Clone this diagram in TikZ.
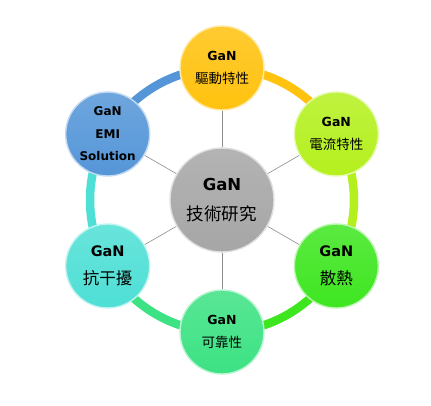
\documentclass[tikz,border=0pt]{standalone}
\usepackage{fontspec}
\setmainfont{DejaVu Sans}
\newfontfamily\cjk{Noto Sans CJK TC}
\usetikzlibrary{positioning}
\usetikzlibrary{backgrounds}

\definecolor{gangray}{HTML}{A6A6A6}
\definecolor{gangold}{HTML}{FFC20E}
\definecolor{ganlime}{HTML}{B4F01E}
\definecolor{gangreen}{HTML}{3EE620}
\definecolor{ganmint}{HTML}{3CE283}
\definecolor{ganturq}{HTML}{4EDFD5}
\definecolor{ganblue}{HTML}{5596D8}

\tikzset{
  ball/.style={circle, minimum size=84pt, inner sep=0pt, align=center,
    top color=#1!85!white, bottom color=#1,
    draw=#1!35!white, line width=1.4pt, text=black,
    font=\fontsize{12.5}{23}\selectfont},
  hub/.style={ball=#1, minimum size=104pt, font=\fontsize{16.5}{30}\selectfont},
  spoke/.style={draw=gray!90, line width=0.6pt},
  ring/.style={line width=8.5pt}
}

\begin{document}
\begin{tikzpicture}[x=1pt,y=1pt]
    \useasboundingbox (-222,-205) rectangle (209,200);

    \node[hub=gangray] (tech) at (0,0)
        {\textbf{GaN}\\{\cjk\fontsize{17.5}{30}\selectfont 技術研究}};

    \node[ball=gangold] (drive) at (90:132)
        {\textbf{GaN}\\{\cjk\fontsize{13.5}{23}\selectfont 驅動特性}};
    \node[ball=ganlime] (current) at (30:132)
        {\textbf{GaN}\\{\cjk\fontsize{13.5}{23}\selectfont 電流特性}};
    \node[ball=gangreen, font=\fontsize{14.5}{28}\selectfont] (heat) at (-30:132)
        {\textbf{GaN}\\{\cjk\fontsize{16.5}{28}\selectfont 散熱}};
    \node[ball=ganmint] (reliable) at (-90:132)
        {\textbf{GaN}\\{\cjk\fontsize{13.5}{23}\selectfont 可靠性}};
    \node[ball=ganturq, font=\fontsize{14.5}{28}\selectfont] (immunity) at (210:132)
        {\textbf{GaN}\\{\cjk\fontsize{16.5}{28}\selectfont 抗干擾}};
    \node[ball=ganblue, font=\fontsize{12}{22.5}\selectfont\bfseries] (emi) at (150:132)
        {GaN\\EMI\\Solution};

    \begin{scope}[on background layer]
        % outer ring, one arc per neighbour pair
        \foreach \from/\a/\b/\c in {drive/90/30/gangold, current/30/-30/ganlime,
                heat/-30/-90/gangreen, reliable/-90/-150/ganmint,
                immunity/210/150/ganturq, emi/150/90/ganblue}
            \draw[ring, draw=\c] (\from.center) arc[start angle=\a, end angle=\b, radius=132pt];
        \foreach \to in {drive, current, heat, reliable, immunity, emi}
            \draw[spoke] (tech) -- (\to);
    \end{scope}
\end{tikzpicture}
\end{document}
